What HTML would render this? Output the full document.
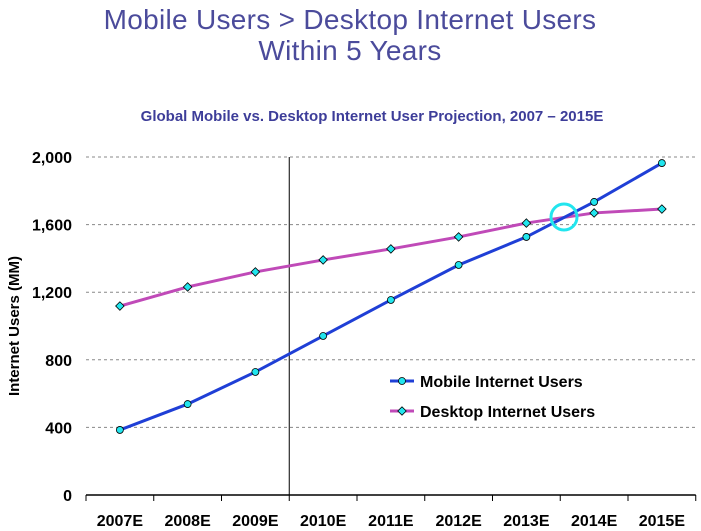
<!DOCTYPE html>
<html><head><meta charset="utf-8"><style>
body{margin:0;background:#fff;width:701px;height:531px;overflow:hidden;font-family:"Liberation Sans",Arial,sans-serif}
svg{display:block}
</style></head><body>
<svg width="701" height="531">
<text x="350" y="29" text-anchor="middle" font-size="28" letter-spacing="0.3" fill="#4b4b9b">Mobile Users &gt; Desktop Internet Users</text>
<text x="350" y="60" text-anchor="middle" font-size="28" letter-spacing="0.3" fill="#4b4b9b">Within 5 Years</text>
<text x="372" y="121" text-anchor="middle" font-size="15" font-weight="bold" fill="#3d3d99">Global Mobile vs. Desktop Internet User Projection, 2007 – 2015E</text>
<text transform="translate(19,326) rotate(-90)" text-anchor="middle" font-size="15" font-weight="bold" fill="#000">Internet Users (MM)</text>
<g id="grid"></g><g id="axes"></g><g id="series"></g>
<circle cx="564" cy="217" r="13" fill="none" stroke="#22e5ee" stroke-width="3"/>
<g>
<line x1="390" y1="381" x2="414" y2="381" stroke="#1f3fd6" stroke-width="3"/>
<circle cx="402" cy="381" r="3.5" fill="#22e5ee" stroke="#000" stroke-width="0.8"/>
<text x="420" y="387" font-size="16" font-weight="bold">Mobile Internet Users</text>
<line x1="390" y1="411" x2="414" y2="411" stroke="#c04ab8" stroke-width="3"/>
<rect x="399" y="408" width="6" height="6" transform="rotate(45 402 411)" fill="#22e5ee" stroke="#000" stroke-width="0.8"/>
<text x="420" y="417" font-size="16" font-weight="bold">Desktop Internet Users</text>
</g>
</svg>
<script>
const categories=["2007E","2008E","2009E","2010E","2011E","2012E","2013E","2014E","2015E"];
const mobile=[385,538,728,941,1154,1361,1527,1734,1964];
const desktop=[1118,1231,1320,1391,1456,1527,1609,1669,1692];
const yTicks=[0,400,800,1200,1600,2000];
const NS="http://www.w3.org/2000/svg";
const x0=86,bw=67.75,yb=495,yt=157,ymax=2000;
const xs=i=>x0+bw*(i+0.5);
const ys=v=>yb-(v/ymax)*(yb-yt);
function mk(t,a,p){const e=document.createElementNS(NS,t);for(const k in a)e.setAttribute(k,a[k]);p.appendChild(e);return e;}
const grid=document.getElementById('grid'),axes=document.getElementById('axes'),ser=document.getElementById('series');
yTicks.forEach(v=>{
 if(v>0){const l=mk('line',{x1:x0,x2:696,y1:ys(v),y2:ys(v),stroke:'#888','stroke-dasharray':'3,3','stroke-width':1},grid);
 
 }
 const t=mk('text',{x:72,y:ys(v)+6,'text-anchor':'end','font-size':16,'font-weight':'bold'},axes);t.textContent=v.toLocaleString('en-US');
 
 
});
const ax=mk('line',{x1:x0,x2:x0+bw*9,y1:yb,y2:yb,stroke:'#000','stroke-width':1.5},axes);


const vl=mk('line',{x1:x0+bw*3,x2:x0+bw*3,y1:yt,y2:yb,stroke:'#000','stroke-width':1},axes);


for(let i=0;i<=9;i++){mk('line',{x1:x0+bw*i,x2:x0+bw*i,y1:yb,y2:yb+6,stroke:'#000','stroke-width':1},axes);}
categories.forEach((c,i)=>{const t=mk('text',{x:xs(i),y:526,'text-anchor':'middle','font-size':16,'font-weight':'bold'},axes);t.textContent=c;
 
 });
function line(data,color,name,diamond){
 const p=mk('polyline',{points:data.map((v,i)=>xs(i)+','+ys(v)).join(' '),fill:'none',stroke:color,'stroke-width':3},ser);
 
 
 data.forEach((v,i)=>{let m;
  if(diamond)m=mk('rect',{x:xs(i)-3,y:ys(v)-3,width:6,height:6,transform:`rotate(45 ${xs(i)} ${ys(v)})`,fill:'#22e5ee',stroke:'#000','stroke-width':0.8},ser);
  else m=mk('circle',{cx:xs(i),cy:ys(v),r:3.5,fill:'#22e5ee',stroke:'#000','stroke-width':0.8},ser);
  
  });
}
line(desktop,'#c04ab8','desktop',true);
line(mobile,'#1f3fd6','mobile',false);
</script>
</body></html>
